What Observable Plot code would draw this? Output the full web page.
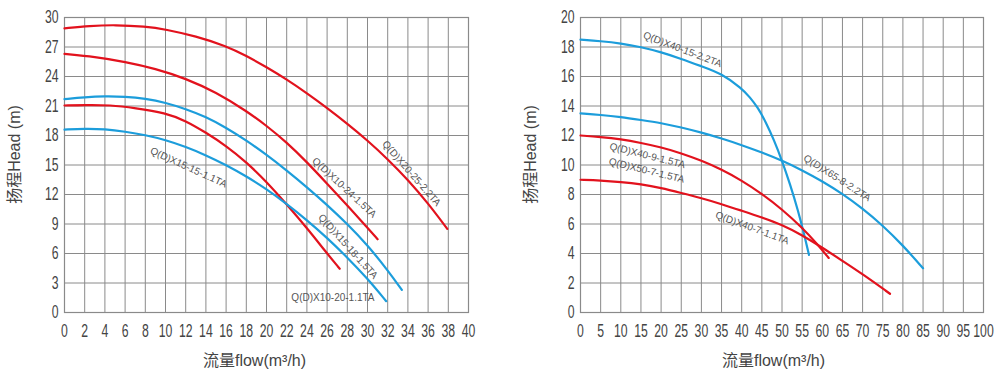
<!DOCTYPE html>
<html>
<head>
<meta charset="utf-8">
<script src="https://cdn.jsdelivr.net/npm/d3@7"></script>
<script src="https://cdn.jsdelivr.net/npm/@observablehq/plot@0.6"></script>
<style>
  html, body { margin: 0; padding: 0; background: #fff; }
  #wrap { display: flex; width: 1000px; height: 380px; }
  #wrap > div { width: 500px; height: 380px; }
</style>
</head>
<body>
<div id="wrap"><div id="left"></div><div id="right"></div></div>
<script>
// ---------- Data: left chart ----------
const leftXTicks = [0,2,4,6,8,10,12,14,16,18,20,22,24,26,28,30,32,34,36,38,40];
const leftYTicks = [0,3,6,9,12,15,18,21,24,27,30];

const x20_25_flow = [0,2.5,5,8,10,13,16,18,20,22,24,26,28,30,32,34,36,37.9];
const x20_25_head = [28.9,29.15,29.25,29.1,28.8,28.1,27.1,26.1,24.95,23.7,22.3,20.8,19.2,17.5,15.6,13.5,11.1,8.5];

const x10_24_flow = [0,3,6,9,12,15,18,20,22,24,26,28,30,31];
const x10_24_head = [26.3,26.0,25.5,24.8,23.8,22.4,20.5,19.0,17.3,15.3,13.1,10.9,8.6,7.45];

const x15_18_flow = [0,2,4,6,8,10,12,14,16,18,20,22,24,26,28,30,32,33.4];
const x15_18_head = [21.7,21.9,22.0,21.95,21.75,21.35,20.7,19.9,18.8,17.5,16.05,14.45,12.75,10.95,9.0,6.85,4.3,2.3];

const x15_15_flow = [0,2,4.5,7,10,12,14,16,18,20,22,24,26,27.25];
const x15_15_head = [21.05,21.1,21.1,20.8,20.3,19.5,18.3,16.95,15.3,13.3,11.0,8.6,6.0,4.45];

const x10_20_flow = [0,2,4,6,8,10,12,14,16,18,20,22,24,26,28,30,31.85];
const x10_20_head = [18.6,18.7,18.65,18.4,18.05,17.55,16.85,16.0,15.0,13.85,12.55,11.05,9.4,7.6,5.6,3.45,1.15];

const leftLabels = ["Q(D)X20-25-2.2TA","Q(D)X10-24-1.5TA","Q(D)X15-18-1.5TA","Q(D)X10-20-1.1TA","Q(D)X15-15-1.1TA"];
const leftLabelFlow = [34.36,27.7,28.07,26.58,12.28];
const leftLabelHead = [14.14,12.7,6.71,1.53,14.75];
const leftLabelAngle = [48.8,42.7,48,0,24.6];

// ---------- Data: right chart ----------
const rightXTicks = [0,5,10,15,20,25,30,35,40,45,50,55,60,65,70,75,80,85,90,95,100];
const rightYTicks = [0,2,4,6,8,10,12,14,16,18,20];

const x40_15_flow = [0,5,10,15,20,25,30,35,40,42,44,46,48,50,52,54,55.5,56.7];
const x40_15_head = [18.5,18.4,18.25,18.0,17.65,17.2,16.7,16.2,15.2,14.6,13.9,12.9,11.7,10.3,8.7,6.9,5.3,3.9];

const x65_8_flow = [0,5,10,15,20,25,30,35,40,45,50,55,60,65,70,75,80,85];
const x65_8_head = [13.5,13.4,13.25,13.05,12.85,12.55,12.2,11.8,11.35,10.85,10.3,9.65,8.9,8.05,7.05,5.9,4.55,3.0];

const x40_9_flow = [0,5,10,15,20,25,30,35,40,45,50,55,58.7,61.6];
const x40_9_head = [12.0,11.9,11.75,11.5,11.2,10.8,10.3,9.7,8.95,8.05,7.0,5.75,4.65,3.7];

const x40_7_flow = [0,5,10,15,20,25,30,35,40,45,50,55,60,65,70,76.8];
const x40_7_head = [9.0,8.95,8.85,8.7,8.45,8.1,7.75,7.35,6.9,6.45,5.95,5.25,4.4,3.5,2.6,1.27];

const rightLabels = ["Q(D)X40-15-2.2TA","Q(D)X40-9-1.5TA","Q(D)X50-7-1.5TA","Q(D)X65-8-2.2TA","Q(D)X40-7-1.1TA"];
const rightLabelFlow = [25.3,16.6,16.4,63.7,42.6];
const rightLabelHead = [17.83,10.64,9.63,9.12,5.73];
const rightLabelAngle = [20.8,14.2,13.8,32.7,20.3];

const yTitle = "扬程Head (m)";
const xTitle = "流量flow(m³/h)";

const RED = "#e2121d";
const BLUE = "#1c9ddb";

function series(name, color, flows, heads) {
  return flows.map((f, i) => ({name, color, flow: f, head: heads[i]}));
}
function labels(names, flows, heads, angles) {
  return names.map((n, i) => ({name: n, flow: flows[i], head: heads[i], angle: angles[i]}));
}

const leftCurves = [
  ...series("A", RED, x20_25_flow, x20_25_head),
  ...series("B", RED, x10_24_flow, x10_24_head),
  ...series("C", BLUE, x15_18_flow, x15_18_head),
  ...series("D", RED, x15_15_flow, x15_15_head),
  ...series("E", BLUE, x10_20_flow, x10_20_head)
];
const rightCurves = [
  ...series("F", BLUE, x40_15_flow, x40_15_head),
  ...series("G", BLUE, x65_8_flow, x65_8_head),
  ...series("H", RED, x40_9_flow, x40_9_head),
  ...series("I", RED, x40_7_flow, x40_7_head)
];

const tickFont = "'Liberation Sans', 'Arial', sans-serif";
const textFont = "'Liberation Sans', 'Noto Sans CJK SC', sans-serif";

function chart(opts) {
  const svg = Plot.plot({
    width: 500,
    height: 380,
    marginTop: 17,
    marginBottom: 68,
    marginLeft: opts.marginLeft,
    marginRight: opts.marginRight,
    style: {fontFamily: textFont, background: "#fff", overflow: "visible"},
    x: {domain: opts.xDomain},
    y: {domain: opts.yDomain},
    marks: [
      Plot.gridX(opts.xTicks, {stroke: "#8a8a8a", strokeOpacity: 1, strokeWidth: 1}),
      Plot.gridY(opts.yTicks, {stroke: "#8a8a8a", strokeOpacity: 1, strokeWidth: 1}),
      Plot.frame({stroke: "#8a8a8a", strokeWidth: 1.2}),
      Plot.axisX(opts.xTicks, {tickSize: 0, tickPadding: 12, fontSize: 18, fontFamily: tickFont, fill: "#444", label: null}),
      Plot.axisY(opts.yTicks, {tickSize: 0, tickPadding: 6, fontSize: 18, fontFamily: tickFont, fill: "#444", label: null}),
      Plot.line(opts.curves, {x: "flow", y: "head", z: "name", stroke: "color", strokeWidth: 2.2, curve: "basis"}),
      Plot.text(opts.labels, {x: "flow", y: "head", text: "name", rotate: "angle", fontSize: 10, fill: "#555", fontFamily: "'Liberation Sans', sans-serif"}),
      Plot.text([yTitle], {frameAnchor: "left", textAnchor: "middle", lineAnchor: "middle", dx: -50, dy: -10.5, rotate: -90, fontSize: 16, fill: "#444"}),
      Plot.text([xTitle], {frameAnchor: "bottom", textAnchor: "middle", lineAnchor: "middle", dx: opts.xTitleDx, dy: 48, fontSize: 16, fill: "#444"})
    ]
  });
  // condensed look of the tick labels
  d3.select(svg).selectAll('g[aria-label="x-axis tick label"] text, g[aria-label="y-axis tick label"] text')
    .attr("transform", function() { return (this.getAttribute("transform") || "") + " scale(0.68,1)"; });
  return svg;
}

document.getElementById("left").appendChild(chart({
  marginLeft: 64, marginRight: 32,
  xDomain: [0, 40], yDomain: [0, 30],
  xTicks: leftXTicks, yTicks: leftYTicks,
  curves: leftCurves,
  labels: labels(leftLabels, leftLabelFlow, leftLabelHead, leftLabelAngle),
  xTitleDx: -12
}));
document.getElementById("right").appendChild(chart({
  marginLeft: 80, marginRight: 17,
  xDomain: [0, 100], yDomain: [0, 20],
  xTicks: rightXTicks, yTicks: rightYTicks,
  curves: rightCurves,
  labels: labels(rightLabels, rightLabelFlow, rightLabelHead, rightLabelAngle),
  xTitleDx: -8.5
}));
</script>
</body>
</html>
